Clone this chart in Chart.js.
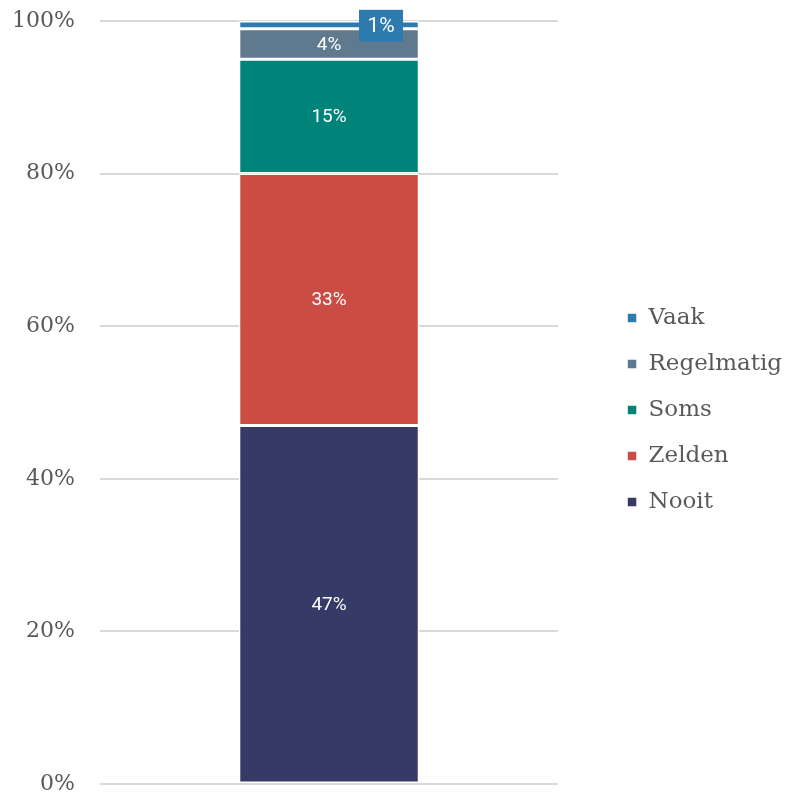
<!DOCTYPE html>
<html>
<head>
<meta charset="utf-8">
<script src="https://cdn.jsdelivr.net/npm/chart.js@4/dist/chart.umd.min.js"></script>
<style>
  body { margin: 0; background: #fff; }
  #wrap { width: 785px; height: 794px; }
</style>
</head>
<body>
<div id="wrap"><canvas id="grafiek" width="785" height="794"></canvas></div>
<script>
const categorieen = [""];
const reeksen = ["Nooit", "Zelden", "Soms", "Regelmatig", "Vaak"];
const waarden = [47, 33, 15, 4, 1];
const kleuren = ["#363a66", "#cb4c43", "#00847a", "#5f7a8f", "#2e7bb0"];
const yTicks = [0, 20, 40, 60, 80, 100];

// labels in de staven, de laatste in een los kadertje rechtsboven
const labelPlugin = {
  id: "labels",
  afterDatasetsDraw(chart) {
    const ctx = chart.ctx;
    ctx.save();
    ctx.textAlign = "center";
    ctx.textBaseline = "middle";
    chart.data.datasets.forEach((ds, i) => {
      const el = chart.getDatasetMeta(i).data[0];
      const tekst = ds.data[0] + "%";
      const midden = (el.y + el.base) / 2;
      if (i === chart.data.datasets.length - 1) {
        const bx = el.x + 52, by = midden + 1;
        ctx.fillStyle = ds.backgroundColor;
        ctx.fillRect(bx - 22, by - 16, 44, 32);
        ctx.fillStyle = "#fff";
        ctx.font = "21px Roboto";
        ctx.fillText(tekst, bx, by + 1);
      } else {
        ctx.fillStyle = "#fff";
        ctx.font = "19px Roboto";
        ctx.fillText(tekst, el.x, midden + 1);
      }
    });
    ctx.restore();
  }
};

// extra ruimte links van de legenda, en wat lager
const legendRuimte = {
  id: "legendRuimte",
  beforeInit(chart) {
    if (!chart.legend) return;
    const fit = chart.legend.fit;
    chart.legend.fit = function () {
      fit.call(this);
      this.width += 39;
    };
  },
  afterLayout(chart) {
    if (!chart.legend) return;
    chart.legend.left += 46;
    chart.legend.top += 13;
    chart.legend.bottom += 13;
  }
};

const ctx = document.getElementById("grafiek").getContext("2d");

new Chart(ctx, {
  type: "bar",
  data: {
    labels: categorieen,
    datasets: reeksen.map((naam, i) => ({
      label: naam,
      data: [waarden[i]],
      backgroundColor: kleuren[i],
      borderColor: "#fff",
      borderWidth: 1.5,
      borderSkipped: false,
      barPercentage: 0.394,
      categoryPercentage: 1
    }))
  },
  options: {
    responsive: false,
    animation: false,
    layout: { padding: 0 },
    plugins: {
      legend: {
        position: "right",
        reverse: true,
        labels: {
          usePointStyle: true,
          pointStyle: "rect",
          boxWidth: 10,
          boxHeight: 10,
          padding: 23,
          color: "#595959",
          font: { family: "DejaVu Serif", size: 23 }
        }
      },
      tooltip: { enabled: false }
    },
    scales: {
      x: {
        display: false,
        stacked: true
      },
      y: {
        stacked: true,
        min: 0,
        max: 100,
        afterBuildTicks: axis => {
          axis.ticks = yTicks.map(v => ({ value: v }));
        },
        afterFit: axis => {
          axis.width = 100;
          axis.paddingTop = 21;
          axis.paddingBottom = 10;
        },
        grid: { color: "#d9d9d9", lineWidth: 2, drawTicks: false },
        border: { display: false },
        ticks: {
          padding: 25,
          color: "#595959",
          font: { family: "DejaVu Serif", size: 22 },
          callback: v => v + "%"
        }
      }
    }
  },
  plugins: [labelPlugin, legendRuimte]
});
</script>
</body>
</html>
